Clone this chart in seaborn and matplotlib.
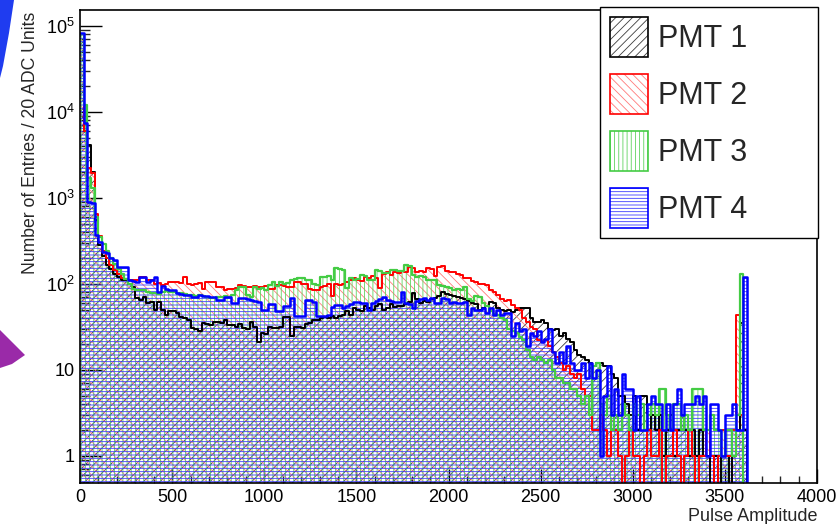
import numpy as np
import pandas as pd
import matplotlib
matplotlib.use("Agg")
import matplotlib.pyplot as plt
import seaborn as sns
from matplotlib.patches import Patch, Polygon
from matplotlib.legend_handler import HandlerTuple
from matplotlib.ticker import MultipleLocator, LogLocator, NullFormatter

# ---------------- data (entries per 20-ADC bin, bins start at 0 ADC) ----------------
bin_width = 20
adc_max = 4000

pmt1 = [80000, 6000, 4100, 2000, 550, 280, 210, 165, 150, 130,
        122, 111, 111, 100, 93, 68, 65, 70, 60, 62,
        50, 62, 50, 44, 48, 48, 46, 41, 40, 38,
        31, 30, 28, 35, 34, 33, 36, 36, 35, 38,
        33, 33, 32, 34, 31, 30, 36, 32, 21, 27,
        26, 32, 31, 31, 32, 41, 41, 25, 32, 32,
        31, 34, 35, 38, 38, 40, 41, 40, 42, 40,
        42, 44, 48, 44, 52, 50, 48, 55, 52, 50,
        56, 58, 50, 52, 58, 54, 56, 55, 58, 62,
        78, 66, 60, 64, 62, 66, 68, 72, 80, 76,
        74, 72, 70, 68, 66, 64, 60, 58, 50, 52,
        55, 62, 60, 52, 50, 48, 50, 47, 50, 53,
        52, 52, 40, 36, 36, 38, 35, 30, 29, 30,
        25, 27, 23, 21, 17, 15, 14, 13, 12, 11,
        12, 12, 11, 11, 9, 8, 5, 5, 4, 3,
        5, 2, 5, 5, 2, 3, 2, 3, 1, 2,
        3, 1, 2, 3, 2, 1, 2, 1, 2, 1,
        1, 0, 1, 0, 1, 1, 0, 1, 2, 35, 2]

pmt2 = [80000, 6000, 2200, 1950, 650, 360, 240, 200, 165, 145,
        130, 117, 115, 112, 110, 112, 120, 122, 112, 110,
        100, 102, 98, 100, 104, 106, 105, 103, 122, 100,
        98, 100, 102, 88, 105, 106, 104, 93, 92, 85,
        88, 87, 90, 96, 95, 93, 92, 94, 93, 92,
        94, 88, 88, 96, 97, 95, 92, 93, 105, 104,
        100, 99, 88, 86, 84, 92, 94, 100, 72, 100,
        96, 100, 104, 112, 116, 110, 108, 122, 118, 125,
        116, 89, 130, 139, 126, 139, 135, 140, 136, 158,
        155, 139, 142, 136, 153, 150, 125, 158, 160, 142,
        139, 136, 132, 128, 118, 116, 108, 104, 101, 100,
        96, 86, 80, 75, 66, 64, 65, 57, 52, 50,
        40, 36, 32, 30, 22, 21, 22, 19, 16, 14,
        12, 10, 11, 9, 8, 9, 6, 5, 5, 2,
        2, 3, 2, 1, 3, 2, 1, 0, 1, 2,
        1, 1, 0, 1, 2, 1, 1, 2, 0, 1,
        1, 2, 1, 0, 1, 2, 1, 0, 1, 1,
        2, 1, 0, 1, 2, 1, 1, 2, 44, 3, 0]

pmt3 = [80000, 12000, 1700, 1300, 600, 350, 290, 240, 200, 170,
        150, 130, 115, 100, 88, 85, 85, 84, 80, 78,
        78, 76, 80, 82, 80, 80, 78, 78, 76, 75,
        74, 73, 74, 72, 70, 69, 68, 71, 70, 72,
        70, 74, 86, 92, 93, 74, 70, 92, 88, 90,
        86, 98, 104, 95, 105, 100, 102, 111, 115, 118,
        116, 112, 110, 100, 96, 120, 122, 125, 110, 153,
        150, 146, 90, 117, 112, 114, 127, 125, 112, 110,
        147, 141, 134, 135, 147, 146, 141, 142, 167, 160,
        127, 122, 124, 120, 112, 110, 112, 97, 95, 93,
        90, 86, 88, 84, 93, 66, 64, 72, 70, 60,
        55, 48, 45, 44, 40, 38, 30, 28, 27, 24,
        22, 17, 14, 13, 14, 13, 12, 13, 10, 8,
        8, 7, 7, 6, 6, 5, 4, 5, 3, 11,
        12, 4, 3, 5, 2, 3, 2, 4, 3, 2,
        4, 3, 4, 2, 3, 4, 3, 6, 6, 3,
        2, 4, 4, 2, 3, 2, 6, 6, 6, 2,
        2, 3, 2, 2, 1, 2, 2, 1, 3, 130, 0]

pmt4 = [83000, 7400, 900, 880, 370, 310, 235, 230, 200, 190,
        158, 158, 158, 111, 108, 105, 120, 120, 105, 111,
        120, 81, 95, 88, 85, 84, 78, 76, 75, 74,
        71, 71, 75, 73, 72, 71, 70, 65, 65, 70,
        70, 60, 60, 68, 68, 67, 65, 64, 62, 50,
        50, 58, 58, 48, 48, 56, 56, 68, 42, 42,
        42, 65, 65, 62, 42, 42, 42, 44, 54, 57,
        57, 52, 56, 58, 62, 62, 60, 60, 50, 60,
        64, 66, 71, 65, 64, 62, 62, 81, 60, 58,
        52, 64, 66, 68, 65, 68, 60, 60, 68, 66,
        60, 62, 60, 60, 62, 44, 52, 50, 50, 52,
        46, 52, 44, 50, 44, 46, 46, 25, 35, 28,
        30, 19, 27, 25, 28, 21, 23, 30, 16, 12,
        16, 12, 19, 12, 10, 10, 12, 8, 12, 8,
        10, 1, 5, 11, 3, 6, 3, 9, 6, 6,
        2, 5, 2, 2, 4, 5, 4, 4, 2, 4,
        2, 4, 6, 3, 4, 4, 4, 5, 4, 5,
        1, 4, 4, 2, 1, 3, 3, 4, 2, 2, 122]

pmt_names = ["PMT 1", "PMT 2", "PMT 3", "PMT 4"]
line_colors = ["#000000", "#ff0000", "#44cc44", "#0000ff"]
hatch_colors = ["#3c3c3c", "#ff7a7a", "#5fd35f", "#3a3aff"]
hatches = ["////", "\\\\\\\\", "||||", "-----"]
line_widths = [1.4, 1.4, 1.6, 1.8]

x_ticks = [0, 500, 1000, 1500, 2000, 2500, 3000, 3500, 4000]
x_tick_labels = ["0", "500", "1000", "1500", "2000", "2500", "3000", "3500", "4000"]
y_ticks = [1, 10, 100, 1000, 10000, 100000]
y_tick_labels = ["1", "10", r"$\mathregular{10^{2}}$", r"$\mathregular{10^{3}}$",
                 r"$\mathregular{10^{4}}$", r"$\mathregular{10^{5}}$"]

# ---------------- build table ----------------
bin_edges = [float(e) for e in np.arange(0, adc_max + bin_width, bin_width)]
n_bins = len(bin_edges) - 1
centers = np.array(bin_edges[:-1]) + bin_width / 2

rows = []
for name, vals in zip(pmt_names, [pmt1, pmt2, pmt3, pmt4]):
    full = np.zeros(n_bins)
    full[:len(vals)] = vals          # bins above 3620 ADC are empty
    rows.append(pd.DataFrame({"ADC": centers, "Entries": full, "PMT": name}))
df = pd.concat(rows, ignore_index=True)

# ---------------- style ----------------
sns.set_style("ticks")
plt.rcParams["font.family"] = ["Liberation Sans", "DejaVu Sans"]
plt.rcParams["mathtext.fontset"] = "custom"
plt.rcParams["mathtext.rm"] = "Liberation Sans"
plt.rcParams["mathtext.it"] = "Liberation Sans:italic"
plt.rcParams["mathtext.bf"] = "Liberation Sans:bold"
plt.rcParams["hatch.linewidth"] = 0.6

fig = plt.figure(figsize=(8.39, 5.24), dpi=100)
ax = fig.add_axes([80 / 839, 1 - 483 / 524, 737 / 839, 473 / 524])

FLOOR = 0.05
edges_arr = np.array(bin_edges)
for name, lc, hc, hz, lw in zip(pmt_names, line_colors, hatch_colors, hatches, line_widths):
    sub = df[df["PMT"] == name]
    heights = sub["Entries"].to_numpy()
    disp = np.where(heights > 0, heights, FLOOR)
    ax.fill_between(edges_arr, np.append(disp, disp[-1]), FLOOR, step="post",
                    facecolor="none", edgecolor=hc, hatch=hz, linewidth=0)
    sns.histplot(data=sub, x="ADC", weights="Entries", bins=bin_edges,
                 element="step", fill=False, color=lc, linewidth=lw, ax=ax)

ax.set_yscale("log")
ax.set_xlim(0, adc_max)
ax.set_ylim(0.485, 1.53e5)

ax.set_xticks(x_ticks)
ax.set_xticklabels(x_tick_labels)
ax.xaxis.set_minor_locator(MultipleLocator(100))
ax.set_yticks(y_ticks)
ax.set_yticklabels(y_tick_labels)
ax.yaxis.set_minor_locator(LogLocator(base=10, subs=np.arange(2, 10)))
ax.yaxis.set_minor_formatter(NullFormatter())

ax.tick_params(axis="x", which="major", direction="in", length=10, width=1,
               labelsize=13, pad=4, top=False, colors="black")
ax.tick_params(axis="x", which="minor", direction="in", length=5, width=1, top=False)
ax.tick_params(axis="y", which="major", direction="in", length=15.5, width=1,
               labelsize=13, pad=4, right=False, colors="black")
ax.tick_params(axis="y", which="minor", direction="in", length=7.5, width=1, right=False)

for sp in ax.spines.values():
    sp.set_visible(True)
    sp.set_color("black")
    sp.set_linewidth(1.2)

ax.set_xlabel("Pulse Amplitude", fontsize=13, loc="right")
ax.xaxis.set_label_coords(1.0, -0.052)
ax.set_ylabel("Number of Entries / 20 ADC Units", fontsize=12.7, loc="top")
ax.yaxis.set_label_coords(-0.055, 0.997)

handles = []
for lc, hc, hz in zip(line_colors, hatch_colors, hatches):
    handles.append((Patch(facecolor="white", edgecolor=hc, hatch=hz, linewidth=0),
                    Patch(facecolor="none", edgecolor=lc, linewidth=1.2)))
leg = ax.legend(handles, pmt_names, handler_map={tuple: HandlerTuple(ndivide=1, pad=0)},
                loc="upper left",
                bbox_to_anchor=(600 / 839, 0.3, 218 / 839, 1 - 7 / 524 - 0.3),
                bbox_transform=fig.transFigure, mode="expand", borderaxespad=0,
                fontsize=22, handlelength=1.24, handleheight=1.64, labelspacing=0.56,
                handletextpad=0.33, borderpad=0.32, fancybox=False, framealpha=1,
                edgecolor="black")
leg.get_frame().set_linewidth(1.0)

# slide background fragments at the left edge of the screenshot
fig.patches.append(Polygon([(0, 1), (14 / 839, 1), (9 / 839, 1 - 33 / 524),
                            (3 / 839, 1 - 66 / 524), (0, 1 - 78 / 524)],
                           closed=True, transform=fig.transFigure, facecolor="#1f3cf0",
                           edgecolor="none"))
fig.patches.append(Polygon([(0, 1 - 330 / 524), (20 / 839, 1 - 350 / 524),
                            (25 / 839, 1 - 355 / 524), (12 / 839, 1 - 364 / 524),
                            (0, 1 - 368 / 524)],
                           closed=True, transform=fig.transFigure, facecolor="#9a2aa8",
                           edgecolor="none"))

fig.savefig("out.png", dpi=100)
